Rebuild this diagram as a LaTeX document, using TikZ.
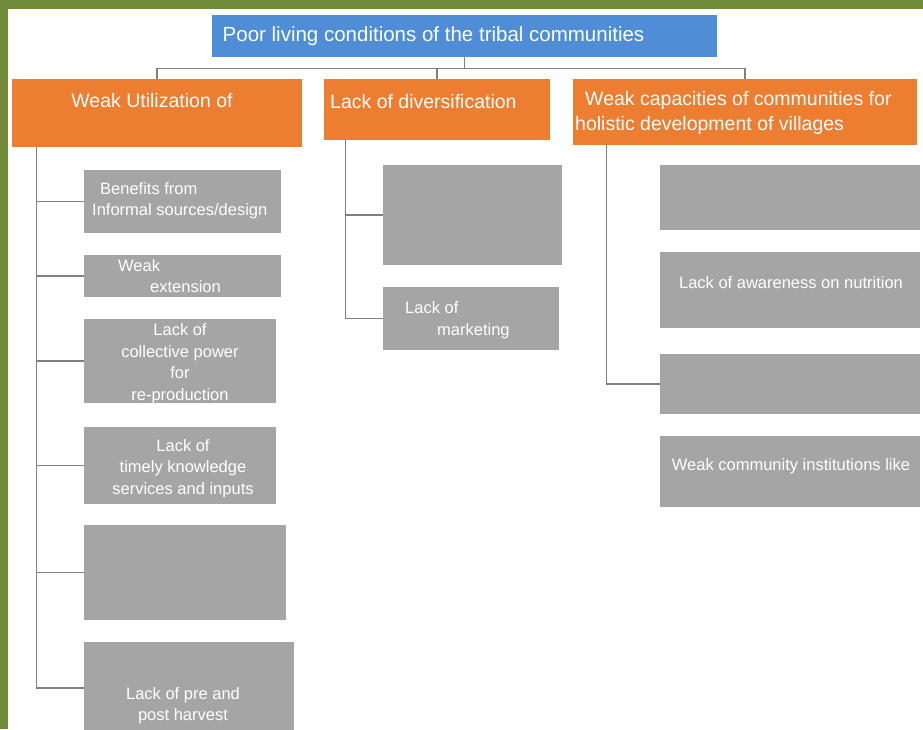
\documentclass[tikz,border=0pt]{standalone}
\usepackage{fontspec}
\setmainfont{Liberation Sans}
\usetikzlibrary{calc}

\definecolor{framegreen}{RGB}{112,140,58}
\definecolor{headblue}{RGB}{79,141,214}
\definecolor{causeorange}{RGB}{237,125,49}
\definecolor{itemgray}{RGB}{165,165,165}
\definecolor{linegray}{RGB}{128,128,128}

\begin{document}
\begin{tikzpicture}[x=1pt, y=-1pt,
    box/.style={rectangle, inner sep=0pt, draw=none},
    headbox/.style={box, fill=headblue},
    causebox/.style={box, fill=causeorange},
    itembox/.style={box, fill=itemgray},
    lbl/.style={inner sep=0pt, text=white, font=\fontsize{16.5}{21.5}\selectfont},
    causelbl/.style={lbl, font=\fontsize{19.5}{25}\selectfont},
    conn/.style={draw=linegray, line width=1.3pt}]
    \useasboundingbox (0,0) rectangle (923,729);
    \clip (0,0) rectangle (923,729);

    % Frame
    \fill[framegreen] (0,0) rectangle (923,729);
    \fill[white] (8,9) rectangle (923,729);

    % Top problem
    \node[headbox, minimum width=505, minimum height=42] (title) at (464.5,36) {};
    \node[lbl, font=\fontsize{20.5}{22}\selectfont] (ttitle) at (433.5,36) {Poor living conditions of the tribal communities};

    % Causes (orange)
    \node[causebox, minimum width=290, minimum height=68] (o1) at (157,113) {};
    \node[causebox, minimum width=226, minimum height=61] (o2) at (437,109.5) {};
    \node[causebox, minimum width=344, minimum height=66] (o3) at (745,112) {};
    \node[causelbl] (to1) at (152,101) {Weak Utilization of};
    \node[causelbl, anchor=west] (to2) at (330,102) {Lack of diversification};
    \node[causelbl, anchor=west, align=left] (to3) at (575,113)
        {\hspace*{10pt}Weak capacities of communities for\\holistic development of villages};

    % Left column
    \node[itembox, minimum width=197, minimum height=63] (l1) at (182.5,201.5) {};
    \node[itembox, minimum width=197, minimum height=42] (l2) at (182.5,276) {};
    \node[itembox, minimum width=192, minimum height=84] (l3) at (180,361) {};
    \node[itembox, minimum width=192, minimum height=77] (l4) at (180,465.5) {};
    \node[itembox, minimum width=202, minimum height=95] (l5) at (185,572.5) {};
    \node[itembox, minimum width=210, minimum height=92] (l6) at (189,688) {};
    \node[lbl, anchor=west, align=left] (tl1) at (92,200.5) {\hspace*{8pt}Benefits from\\Informal sources/design};
    \node[lbl, anchor=west, align=left] (tl2) at (118,276) {Weak\\\hspace*{32pt}extension};
    \node[lbl, align=center] (tl3) at (180,363.5) {Lack of\\collective power\\for\\re-production};
    \node[lbl, align=center] (tl4) at (183,468.5) {Lack of\\timely knowledge\\services and inputs};
    \node[lbl, align=center] (tl6) at (183,705.5) {Lack of pre and\\post harvest};

    % Middle column
    \node[itembox, minimum width=179, minimum height=100] (m1) at (472.5,215) {};
    \node[itembox, minimum width=176, minimum height=63] (m2) at (471,318.5) {};
    \node[lbl, anchor=west, align=left] (tm2) at (405,320) {Lack of\\\hspace*{32pt}marketing};

    % Right column
    \node[itembox, minimum width=260, minimum height=65] (r1) at (790,197.5) {};
    \node[itembox, minimum width=260, minimum height=76] (r2) at (790,290) {};
    \node[itembox, minimum width=260, minimum height=60] (r3) at (790,384) {};
    \node[itembox, minimum width=260, minimum height=71] (r4) at (790,471.5) {};
    \node[lbl] (tr2) at (791,283) {Lack of awareness on nutrition};
    \node[lbl] (tr4) at (791,466) {Weak community institutions like};

    % Connectors: top problem to causes
    \draw[conn] (title.south) -- ++(0,11) coordinate (tj);
    \draw[conn] (o1.north |- tj) -- (o3.north |- tj);
    \foreach \n in {o1,o2,o3}
        \draw[conn] (\n.north |- tj) -- (\n.north);

    % Connectors: causes to items
    \coordinate (lspine) at ($(o1.south west)+(25,0)$);
    \draw[conn] (lspine) |- (l6.west);
    \foreach \n in {l1,l2,l3,l4,l5}
        \draw[conn] (lspine |- \n.west) -- (\n.west);

    \coordinate (mspine) at ($(o2.south west)+(22,0)$);
    \draw[conn] (mspine) |- (m2.west);
    \draw[conn] (mspine |- m1.west) -- (m1.west);

    \coordinate (rspine) at ($(o3.south west)+(34,0)$);
    \draw[conn] (rspine) |- (r3.west);
\end{tikzpicture}
\end{document}
